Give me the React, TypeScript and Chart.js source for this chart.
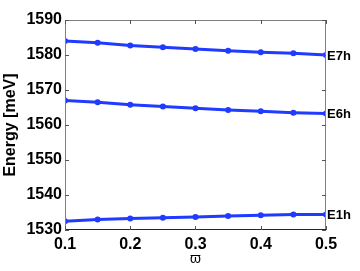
import React, { useEffect, useRef } from "react";
import { Chart, registerables } from "chart.js";

Chart.register(...registerables);

const omega = [0.1, 0.15, 0.2, 0.25, 0.3, 0.35, 0.4, 0.45, 0.5];
const e7h = [1584.0, 1583.5, 1582.7, 1582.2, 1581.7, 1581.2, 1580.8, 1580.5, 1580.0];
const e6h = [1567.0, 1566.5, 1565.8, 1565.3, 1564.8, 1564.3, 1563.9, 1563.5, 1563.3];
const e1h = [1532.5, 1533.0, 1533.3, 1533.5, 1533.7, 1534.0, 1534.2, 1534.4, 1534.4];
const seriesNames = ["E7h", "E6h", "E1h"];
const xTickLabels = ["0.1", "0.2", "0.3", "0.4", "0.5"];
const yTickLabels = ["1530", "1540", "1550", "1560", "1570", "1580", "1590"];

const FONT = "'Liberation Sans', Arial, 'DejaVu Sans', sans-serif";
const BLUE = "#1f3bff";

const boxPlugin = {
  id: "boxTicks",
  afterDraw(chart: any) {
    const { ctx, chartArea: a, scales } = chart;
    const x = scales.x;
    const y = scales.y;
    ctx.save();
    ctx.lineWidth = 1;
    ctx.strokeStyle = "#808080";
    ctx.beginPath();
    ctx.moveTo(a.left + 0.5, a.bottom);
    ctx.lineTo(a.left + 0.5, a.top + 0.5);
    ctx.lineTo(a.right - 0.5, a.top + 0.5);
    ctx.lineTo(a.right - 0.5, a.bottom);
    ctx.stroke();
    ctx.strokeStyle = "#262626";
    ctx.beginPath();
    ctx.moveTo(a.left, a.bottom - 0.5);
    ctx.lineTo(a.right, a.bottom - 0.5);
    ctx.stroke();
    const tl = 4;
    ctx.strokeStyle = "#555";
    ctx.beginPath();
    x.ticks.forEach((t: any) => {
      const px = Math.round(x.getPixelForValue(t.value)) + 0.5;
      ctx.moveTo(px, a.bottom);
      ctx.lineTo(px, a.bottom - tl);
      ctx.moveTo(px, a.top);
      ctx.lineTo(px, a.top + tl);
    });
    y.ticks.forEach((t: any) => {
      const py = Math.round(y.getPixelForValue(t.value)) + 0.5;
      ctx.moveTo(a.left, py);
      ctx.lineTo(a.left + tl, py);
      ctx.moveTo(a.right, py);
      ctx.lineTo(a.right - tl, py);
    });
    ctx.stroke();
    ctx.restore();
  },
  afterDatasetsDraw(chart: any) {
    const { ctx } = chart;
    ctx.save();
    ctx.font = `bold 13px ${FONT}`;
    ctx.fillStyle = "#000";
    ctx.textAlign = "left";
    ctx.textBaseline = "middle";
    chart.data.datasets.forEach((ds: any, i: number) => {
      const meta = chart.getDatasetMeta(i);
      const pt = meta.data[meta.data.length - 1];
      ctx.fillText(seriesNames[i], pt.x + 1, pt.y + 1);
    });
    ctx.restore();
  },
};

export default function App() {
  const ref = useRef<HTMLCanvasElement>(null);
  useEffect(() => {
    document.body.style.margin = "0";
    const mk = (data: number[]) => ({
      data: omega.map((o, i) => ({ x: o, y: data[i] })),
      borderColor: BLUE,
      backgroundColor: BLUE,
      borderWidth: 3,
      pointRadius: 3,
      pointBorderWidth: 0,
      tension: 0,
    });
    const chart = new Chart(ref.current!, {
      type: "line",
      data: { datasets: [mk(e7h), mk(e6h), mk(e1h)] },
      options: {
        animation: false,
        responsive: false,
        devicePixelRatio: 1,
        layout: { padding: { left: 0, right: 34, top: 20, bottom: 0 } },
        plugins: { legend: { display: false }, tooltip: { enabled: false } },
        scales: {
          x: {
            type: "linear",
            min: 0.1,
            max: 0.5,
            afterFit: (s: any) => { s.height = 41; },
            afterBuildTicks: (s: any) => {
              s.ticks = xTickLabels.map((l) => ({ value: parseFloat(l) }));
            },
            ticks: {
              color: "#000",
              padding: 5,
              font: { family: FONT, size: 16, weight: "bold" },
              callback: (v: any, i: number) => xTickLabels[i],
              maxRotation: 0,
              autoSkip: false,
            },
            grid: { display: false, drawTicks: false },
            border: { display: false },
            title: {
              display: true,
              text: "ϖ",
              color: "#000",
              font: { family: FONT, size: 14 },
              padding: { top: 0, bottom: 3 },
            },
          },
          y: {
            type: "linear",
            min: 1530,
            max: 1590,
            afterFit: (s: any) => { s.width = 65; },
            afterBuildTicks: (s: any) => {
              s.ticks = yTickLabels.map((l) => ({ value: parseFloat(l) }));
            },
            ticks: {
              color: "#000",
              padding: 3,
              font: { family: FONT, size: 16, weight: "bold" },
              callback: (v: any, i: number) => yTickLabels[i],
              autoSkip: false,
            },
            grid: { display: false, drawTicks: false },
            border: { display: false },
            title: {
              display: true,
              text: "Energy [meV]",
              color: "#000",
              font: { family: FONT, size: 16, weight: "bold" },
              padding: { top: 1, bottom: 0 },
            },
          },
        },
      },
      plugins: [boxPlugin],
    });
    return () => chart.destroy();
  }, []);
  return (
    <div style={{ width: 360, height: 271 }}>
      <canvas ref={ref} width={360} height={271} style={{ display: "block" }} />
    </div>
  );
}
